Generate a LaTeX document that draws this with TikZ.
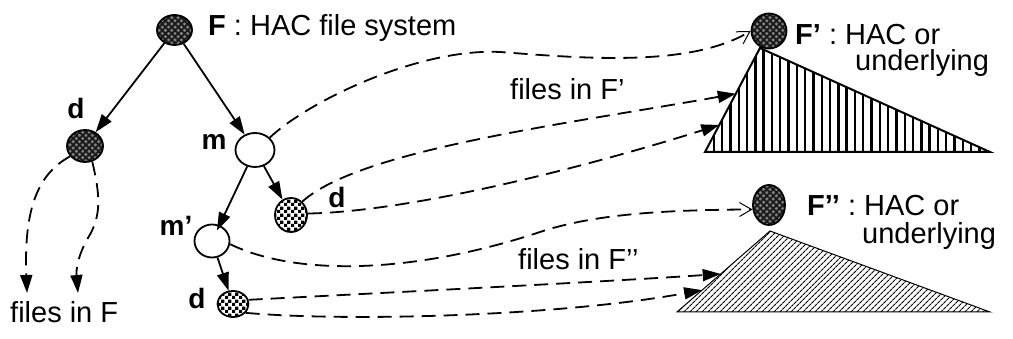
\documentclass[tikz,border=0pt]{standalone}
\usepackage{fontspec}
\setmainfont{Liberation Sans}
\usetikzlibrary{shapes.geometric,arrows.meta,patterns,patterns.meta,calc}
\pgfdeclarepatternformonly{mycheck}{\pgfqpoint{0pt}{0pt}}{\pgfqpoint{6.6pt}{6.6pt}}{\pgfqpoint{6.6pt}{6.6pt}}{%
 \pgfpathrectangle{\pgfqpoint{0pt}{0pt}}{\pgfqpoint{3.3pt}{3.3pt}}%
 \pgfpathrectangle{\pgfqpoint{3.3pt}{3.3pt}}{\pgfqpoint{3.3pt}{3.3pt}}%
 \pgfusepath{fill}}
\begin{document}
\begin{tikzpicture}[x=1pt,y=-1pt,
  darkn/.style={ellipse, draw, line width=1.8pt, inner sep=0pt,
    preaction={fill=black!50},
    pattern={Hatch[angle=45,distance=4.5pt,line width=1.8pt]}, pattern color=black!90},
  whiten/.style={ellipse, draw, line width=1.8pt, inner sep=0pt, fill=white},
  checkn/.style={ellipse, draw, line width=1.8pt, inner sep=0pt,
    preaction={fill=white}, pattern=mycheck},
  lbl/.style={inner sep=0pt, font=\fontsize{29}{34}\selectfont},
  blbl/.style={inner sep=0pt, font=\fontsize{28}{34}\selectfont\bfseries},
  solidarr/.style={line width=1.8pt, -{Triangle[length=18pt,width=12pt]}},
  dasharr/.style={line width=1.8pt, dash pattern=on 14pt off 8pt, -{Triangle[length=18pt,width=12pt]}},
  barbarr/.style={line width=1.8pt, dash pattern=on 14pt off 8pt, -{Straight Barb[length=12pt,width=14pt,line width=1pt]}}
]
\useasboundingbox (0,0) rectangle (1013,339);

% triangles
\coordinate (ta) at (760,48);
\coordinate (tb) at (705,152);
\coordinate (tc) at (990,152);
\draw[line width=2pt, pattern={Lines[angle=90,distance=8.3pt,line width=2.4pt]}] (ta) -- (tb) -- (tc) -- cycle;
\coordinate (ua) at (770,231);
\coordinate (ub) at (677,312);
\coordinate (uc) at (990,312);
\draw[line width=1pt, pattern={Lines[angle=45,distance=4pt,line width=1.2pt]}] (ua) -- (ub) -- (uc) -- cycle;
\coordinate (pB) at ($(ta)!0.44!(tb)$);
\coordinate (pC) at ($(ta)!0.74!(tb)$);
\coordinate (qE) at ($(ua)!0.53!(ub)$);
\coordinate (qF) at ($(ua)!0.73!(ub)$);

% nodes
\node[darkn, minimum width=35pt, minimum height=30pt] (F) at (174.5,30) {};
\node[darkn, minimum width=36pt, minimum height=32pt] (dL) at (85,146) {};
\node[whiten, minimum width=39pt, minimum height=34pt] (m) at (255,150) {};
\node[checkn, minimum width=32pt, minimum height=34pt] (dM) at (291,215) {};
\node[whiten, minimum width=35pt, minimum height=33pt] (mp) at (212,241) {};
\node[checkn, minimum width=31pt, minimum height=26pt] (dB) at (233,304) {};
\node[darkn, minimum width=35pt, minimum height=35pt] (Fp) at (769,31) {};
\node[darkn, minimum width=32pt, minimum height=40pt] (Fpp) at (769,205) {};

% labels
\node[lbl, anchor=base west] (tF) at (208,36) {\textbf{F} : HAC file system};
\node[lbl, anchor=base west] (tFp) at (795,45) {\textbf{F’} : HAC or};
\node[lbl, anchor=base west] (tFpb) at (855,71) {underlying};
\node[lbl, anchor=base west] (tFpp) at (807,216) {\textbf{F’’} : HAC or};
\node[lbl, anchor=base west] (tFppb) at (862,244) {underlying};
\node[lbl, anchor=base west] (tfF) at (10,323) {files in F};
\node[lbl, anchor=base west] (tfFp) at (510,100) {files in F’};
\node[lbl, anchor=base west] (tfFpp) at (518,270) {files in F’’};
\node[blbl] (ldL) at (76,108) {d};
\node[blbl] (lm) at (214,142) {m};
\node[blbl] (ldM) at (337,197) {d};
\node[blbl] (lmp) at (176,226) {m’};
\node[blbl] (ldB) at (197,298) {d};

% solid tree edges
\draw[solidarr] (F) -- (dL);
\draw[solidarr] (F) -- (m);
\draw[solidarr] (m) -- (dM);
\draw[solidarr, shorten >=-6pt] (m) -- (mp);
\draw[solidarr] (mp) -- (dB);

% dashed connectors
\coordinate (fa) at (27,293);
\coordinate (fb) at (78,293);
\draw[dasharr] (dL.215) .. controls (35,175) and (24,215) .. (fa);
\draw[dasharr] (dL.-65) .. controls (100,195) and (102,215) .. (88,238) .. controls (78,255) and (76,270) .. (fb);
\draw[barbarr] (m.40) .. controls (310,100) and (420,48) .. (500,52) .. controls (580,58) and (690,68) .. (Fp.west);
\draw[dasharr] (dM.50) .. controls (360,150) and (560,125) .. (pB);
\draw[dasharr] (dM.5) .. controls (400,212) and (560,175) .. (pC);
\draw[barbarr] (mp.-10) .. controls (300,278) and (420,272) .. (540,232) .. controls (600,212) and (680,210) .. (Fpp.195);
\draw[dasharr] (dB.15) .. controls (400,292) and (600,282) .. (qE);
\draw[dasharr] (dB.-35) .. controls (350,322) and (560,316) .. (qF);
\end{tikzpicture}
\end{document}
